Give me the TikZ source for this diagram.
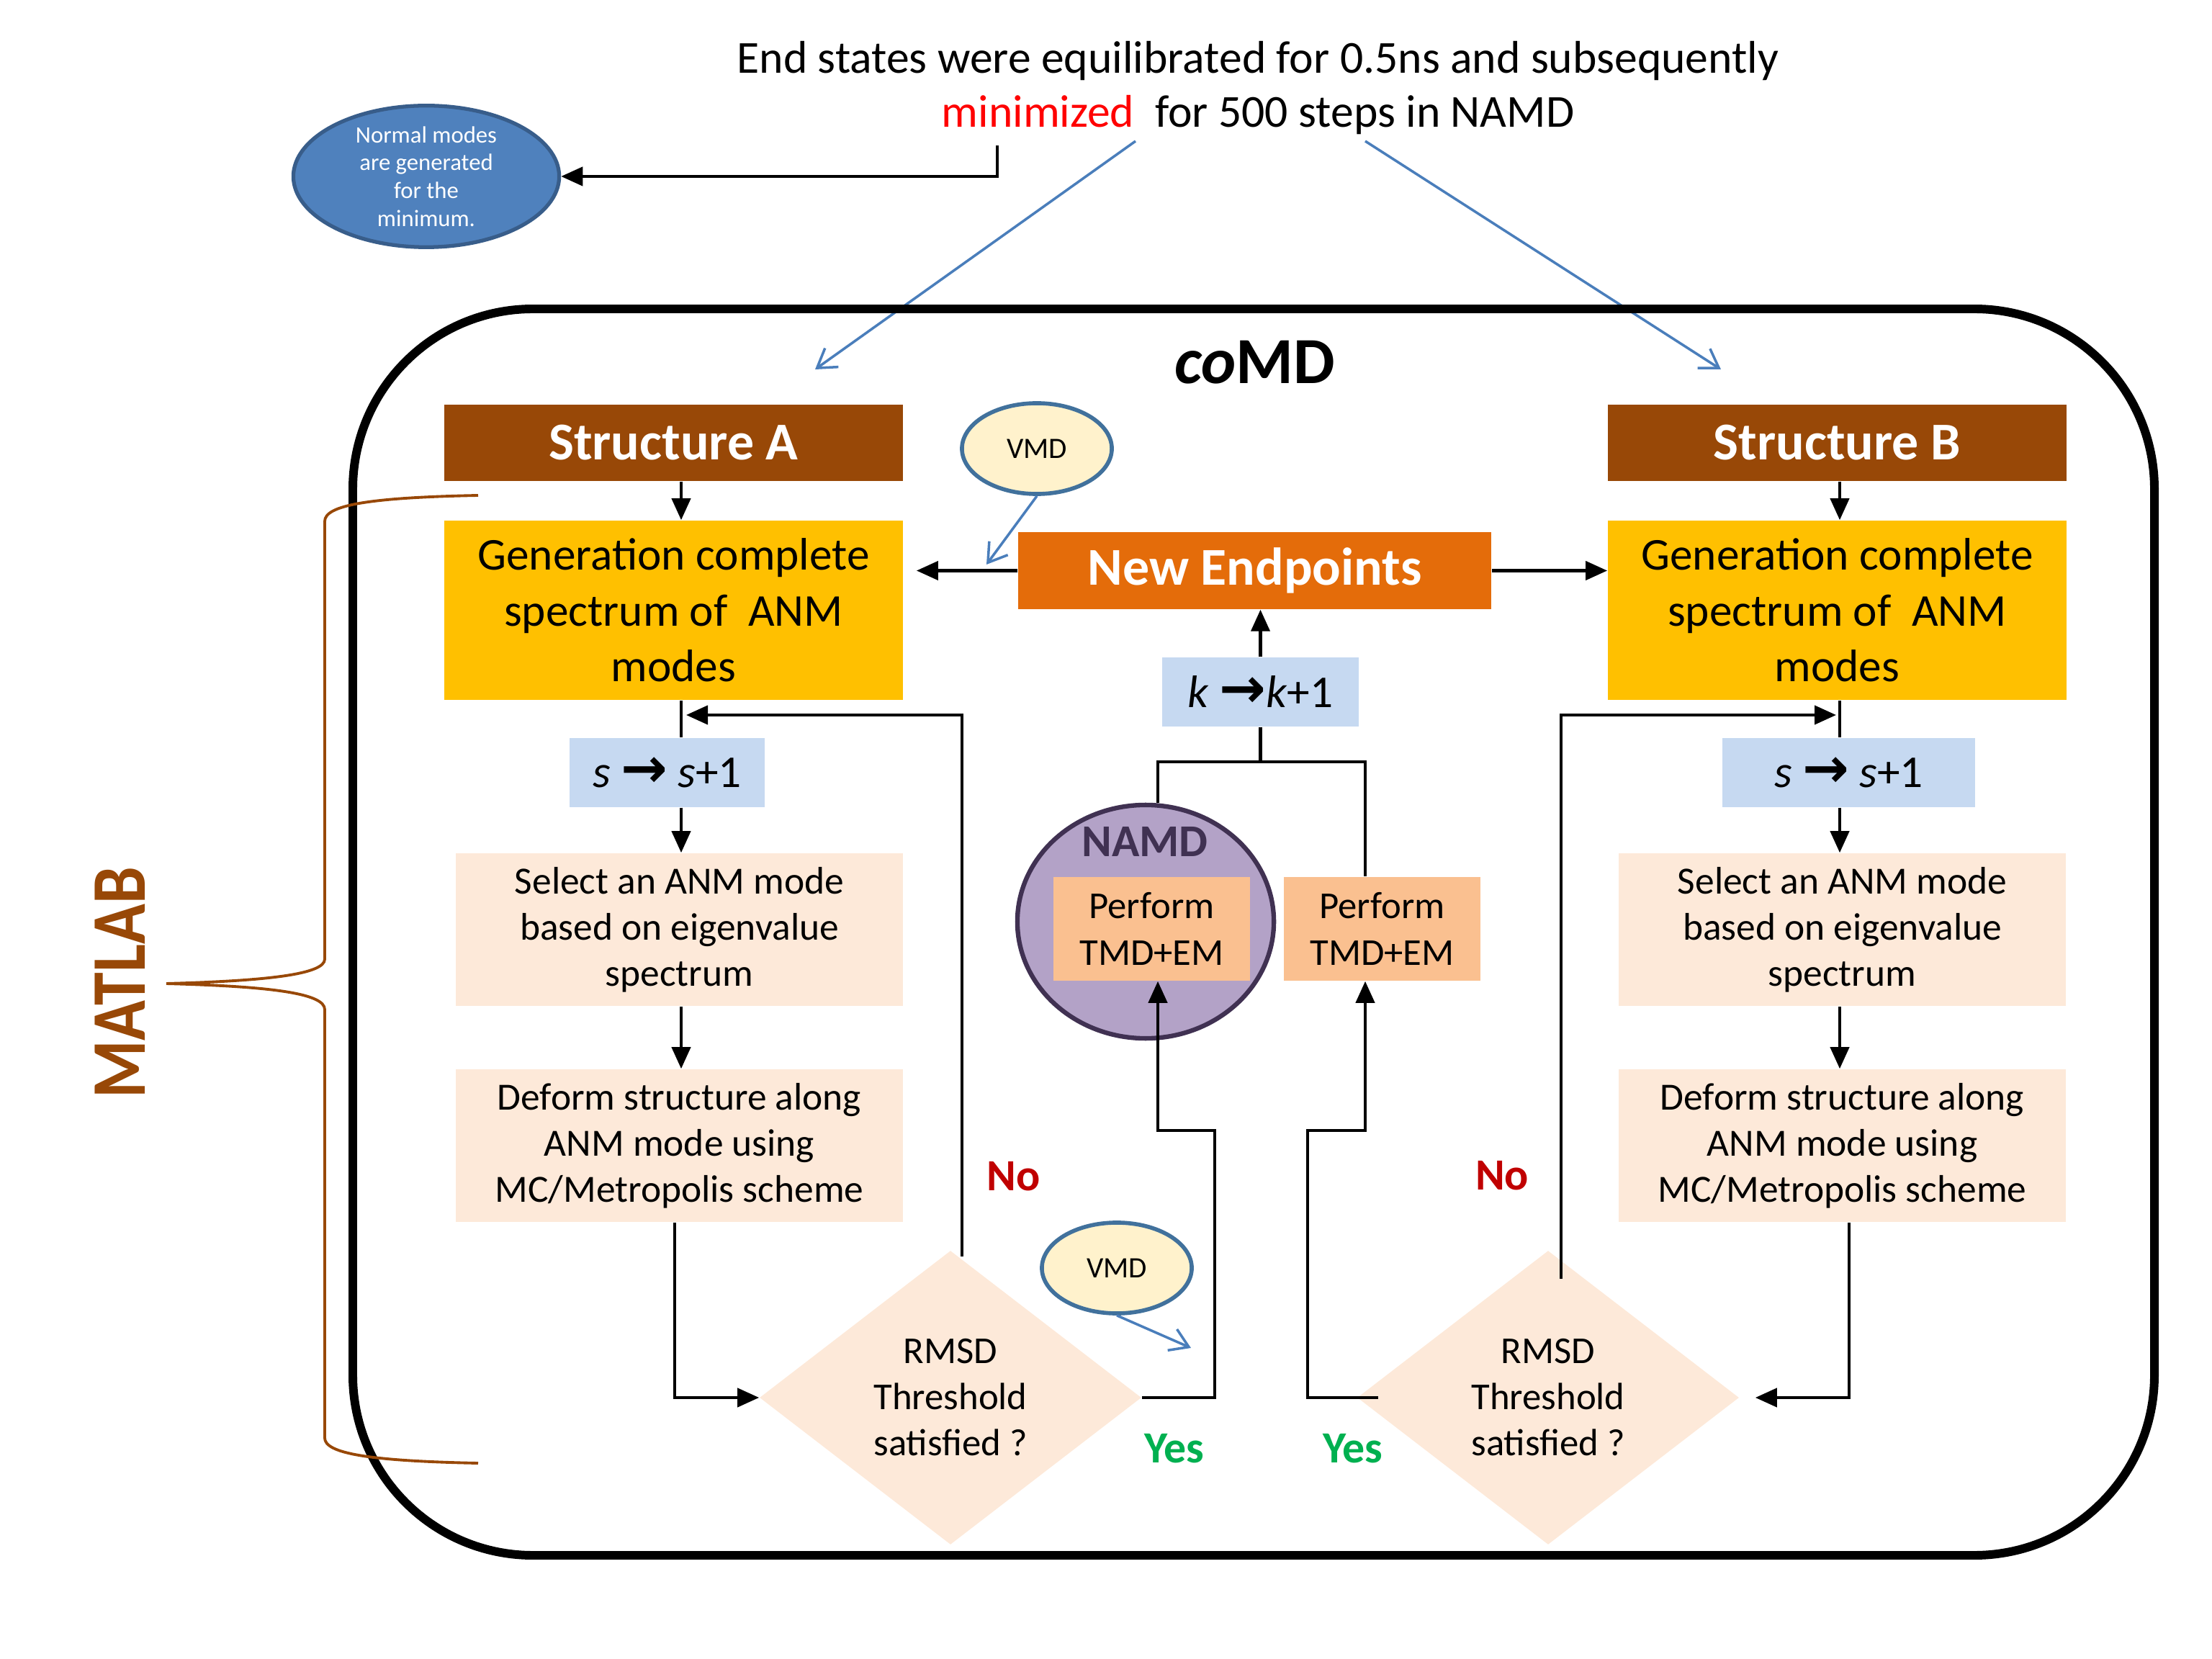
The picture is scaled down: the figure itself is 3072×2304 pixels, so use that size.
\documentclass[tikz,border=0pt]{standalone}
\usepackage{fontspec}
\setmainfont{Carlito}
\newfontfamily\symf{DejaVu Sans}
\usetikzlibrary{arrows.meta,shapes.geometric,calc}
\definecolor{strbrown}{HTML}{984807}
\definecolor{gold}{HTML}{FFC000}
\definecolor{neorange}{HTML}{E46C0A}
\definecolor{lblue}{HTML}{C6D9F1}
\definecolor{peach}{HTML}{FDE9D9}
\definecolor{perfc}{HTML}{FAC090}
\definecolor{purfill}{HTML}{B3A2C7}
\definecolor{purdraw}{HTML}{403152}
\definecolor{vmdfill}{HTML}{FFF2CC}
\definecolor{vmddraw}{HTML}{41719C}
\definecolor{nmfill}{HTML}{4F81BD}
\definecolor{nmdraw}{HTML}{385D8A}
\definecolor{barrow}{HTML}{4A7EBB}
\definecolor{nored}{HTML}{C00000}
\definecolor{yesgreen}{HTML}{00B050}
\newcommand\fsz[2]{\fontsize{#1}{#2}\selectfont}
\newcommand\bigarr{{\symf\bfseries\fsz{22pt}{22pt}→}}
\begin{document}
\begin{tikzpicture}[x=0.01cm,y=-0.01cm,
  box/.style={inner sep=0pt, align=center, text=black},
  arr/.style={-{Triangle[length=0.3cm,width=0.26cm]}, line width=1.2pt},
  conn/.style={line width=1.2pt},
  barr/.style={-{Straight Barb[length=0.25cm,width=0.32cm]}, line width=1pt, draw=barrow},
  strbox/.style={box, fill=strbrown, text=white, font=\fsz{21pt}{25pt}\bfseries, minimum width=6.37cm, minimum height=1.06cm},
  genbox/.style={box, fill=gold, font=\fsz{18pt}{22pt}, minimum width=6.37cm, minimum height=2.49cm},
  peachbox/.style={box, fill=peach, font=\fsz{15.2pt}{18.2pt}, minimum width=6.21cm, minimum height=2.12cm},
  incbox/.style={box, fill=lblue, font=\fsz{18pt}{22pt}, minimum height=0.96cm},
  perfbox/.style={box, fill=perfc, font=\fsz{15pt}{18.4pt}, minimum width=2.72cm, minimum height=1.44cm},
  decision/.style={diamond, inner sep=0pt, fill=peach, align=center, font=\fsz{15pt}{18.2pt}, minimum width=5.3cm, minimum height=4.08cm},
  vmd/.style={ellipse, draw=vmddraw, line width=1.6pt, fill=vmdfill, inner sep=0pt, font=\fsz{11.7pt}{14pt}, minimum width=2.08cm, minimum height=1.26cm},
  nolab/.style={text=nored, font=\fsz{17.6pt}{20pt}\bfseries},
  yeslab/.style={text=yesgreen, font=\fsz{17.6pt}{20pt}\bfseries}
]
\useasboundingbox (0,0) rectangle (3072,2304);

% title
\node[align=center, font=\fsz{18.1pt}{21.3pt}] (title) at (1747,122)
  {End states were equilibrated for 0.5ns and subsequently\\
   \textcolor{red}{minimized}\ \ for 500 steps in NAMD};

% normal modes ellipse
\node[ellipse, draw=nmdraw, line width=1.5pt, fill=nmfill, text=white, align=center,
      inner sep=0pt, minimum width=3.69cm, minimum height=1.74cm, font=\fsz{9.3pt}{11pt}]
      (nm) at (592,245) {Normal modes\\are generated\\for the\\minimum.};

\coordinate (t1) at (1385,202);
\draw[arr] (t1) |- (nm.east);

% blue arrows
\coordinate (bA1) at (1577,196);
\coordinate (bA2) at (1132,513);
\coordinate (bB1) at (1896,196);
\coordinate (bB2) at (2390,513);
\draw[barr] (bA1) -- (bA2);
\draw[barr] (bB1) -- (bB2);

% big rounded frame
\draw[line width=3.4pt, rounded corners=2.5cm] (490,429) rectangle (2992,2160);
\node[font=\fsz{26pt}{30pt}] (comd) at (1743,503) {\textbf{\textit{co}MD}};

% MATLAB brace
\draw[strbrown, line width=1.1pt]
  (664,688) .. controls (510,691) and (451,702) .. (451,724) -- (451,1332)
  .. controls (451,1352) and (380,1362) .. (231,1366)
  .. controls (380,1370) and (451,1380) .. (451,1402) -- (451,1997)
  .. controls (451,2018) and (510,2029) .. (664,2032);
\node[rotate=90, text=strbrown, font=\fsz{30.5pt}{34pt}\bfseries] (matlab) at (167,1365)
  {\scalebox{0.86}[1]{MATLAB}};

% structures
\node[strbox] (strA) at (935.5,615) {Structure A};
\node[strbox] (strB) at (2551.5,615) {Structure B};
\node[genbox] (genA) at (935.5,847.5) {Generation complete\\spectrum of\ \ ANM\\modes};
\node[genbox] (genB) at (2551.5,847.5) {Generation complete\\spectrum of\ \ ANM\\modes};

\node[box, fill=neorange, text=white, font=\fsz{21pt}{25pt}\bfseries,
      minimum width=6.57cm, minimum height=1.07cm] (newend) at (1742.5,792.5) {New Endpoints};
\node[incbox, minimum width=2.73cm] (kbox) at (1750.5,961) {\textit{k} \bigarr\textit{k}+1};

\node[incbox, minimum width=2.71cm] (sA) at (926.5,1073) {\textit{s} \bigarr{} \textit{s}+1};
\node[incbox, minimum width=3.51cm] (sB) at (2567.5,1073) {\textit{s} \bigarr{} \textit{s}+1};

\node[peachbox] (selA) at (943.5,1291) {Select an ANM mode\\based on eigenvalue\\spectrum};
\node[peachbox] (selB) at (2558.5,1291) {Select an ANM mode\\based on eigenvalue\\spectrum};
\node[peachbox] (defA) at (943.5,1591) {Deform structure along\\ANM mode using\\MC/Metropolis scheme};
\node[peachbox] (defB) at (2558.5,1591) {Deform structure along\\ANM mode using\\MC/Metropolis scheme};

\node[decision] (diamA) at (1320,1941) {RMSD\\Threshold\\satisfied ?};
\node[decision] (diamB) at (2150,1941) {RMSD\\Threshold\\satisfied ?};

% NAMD circle and perform boxes
\node[ellipse, draw=purdraw, line width=1.8pt, fill=purfill, inner sep=0pt,
      minimum width=3.56cm, minimum height=3.24cm] (namd) at (1591,1280) {};
\node[text=purdraw, font=\fsz{18pt}{22pt}\bfseries] (namdlab) at (1590,1169) {NAMD};
\node[perfbox, minimum width=2.73cm] (perfL) at (1599.5,1290) {Perform\\TMD+EM};
\node[perfbox] (perfR) at (1919.5,1290) {Perform\\TMD+EM};

% VMD bubbles
\node[vmd] (vmd1) at (1440,623) {VMD};
\coordinate (v1e) at (1370,784);
\draw[barr] (vmd1.south) -- (v1e);
\node[vmd] (vmd2) at (1551,1761) {VMD};
\coordinate (v2e) at (1654,1872);
\draw[barr] (vmd2.south) -- (v2e);

% labels
\node[nolab] (noA) at (1408,1634) {No};
\node[nolab] (noB) at (2086,1633) {No};
\node[yeslab] (yesA) at (1631,2012) {Yes};
\node[yeslab] (yesB) at (1879,2012) {Yes};

% column coordinates
\coordinate (colA) at (946,0);
\coordinate (dcolA) at (937,0);
\coordinate (colB) at (2555,0);
\coordinate (dcolB) at (2568,0);
\coordinate (yfb) at (0,993);
\coordinate (fbA) at (1336,1745);
\coordinate (fbB) at (2168,1776);

% left column connectors
\draw[arr] (colA |- strA.south) -- (colA |- genA.north);
\draw[conn] (colA |- genA.south) -- (colA |- sA.north);
\draw[arr] (colA |- sA.south) -- (colA |- selA.north);
\draw[arr] (colA |- selA.south) -- (colA |- defA.north);
\draw[arr] (dcolA |- defA.south) |- (diamA.west);
\draw[arr] (fbA) |- ([xshift=0.07cm]colA |- yfb);

% right column connectors
\draw[arr] (colB |- strB.south) -- (colB |- genB.north);
\draw[conn] (colB |- genB.south) -- (colB |- sB.north);
\draw[arr] (colB |- sB.south) -- (colB |- selB.north);
\draw[arr] (colB |- selB.south) -- (colB |- defB.north);
\draw[arr] (dcolB |- defB.south) |- ([xshift=0.22cm]diamB.east);
\draw[arr] (fbB) |- ([xshift=-0.05cm]colB |- yfb);

% new endpoints connectors
\draw[arr, shorten >=0.18cm] (newend.west) -- (newend.west -| genA.east);
\draw[arr] (newend.east) -- (newend.east -| genB.west);
\draw[arr] (kbox.north) -- (kbox.north |- newend.south);

% split to the two TMD branches
\coordinate (spL) at (1608,1058);
\coordinate (spR) at (1896,1058);
\draw[conn] (kbox.south) -- (kbox.south |- spL);
\draw[conn] (spL |- namd.north) -- (spL) -- (spR) -- (spR |- perfR.north);

% yes branches
\coordinate (yaL) at (1687,1570);
\coordinate (ybL) at (1608,1570);
\coordinate (yaR) at (1816,1570);
\coordinate (ybR) at (1896,1570);
\draw[arr] (diamA.east) -| (yaL) -- (ybL) -- (ybL |- perfL.south);
\draw[arr] ([xshift=0.3cm]diamB.west) -| (yaR) -- (ybR) -- (ybR |- perfR.south);
\end{tikzpicture}
\end{document}
